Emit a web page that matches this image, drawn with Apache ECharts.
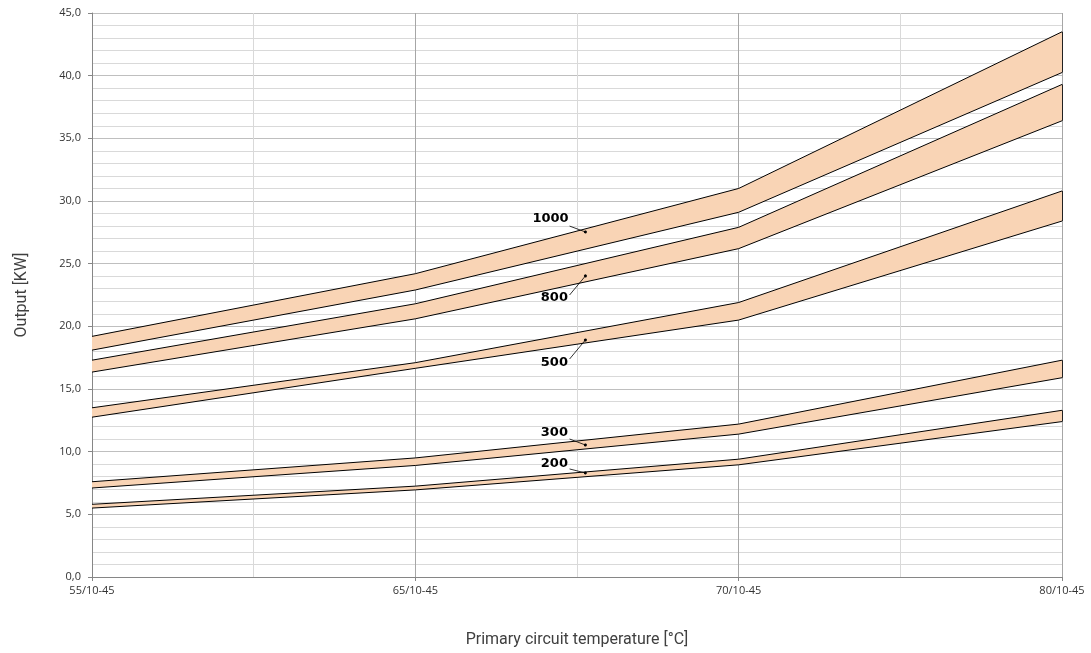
<!DOCTYPE html>
<html>
<head>
<meta charset="utf-8">
<script src="https://cdn.jsdelivr.net/npm/echarts@6/dist/echarts.min.js"></script>
<style>
  html, body { margin: 0; padding: 0; background: #fff; }
  #chart { width: 1091px; height: 653px; }
</style>
</head>
<body>
<div id="chart"></div>
<script>
var categories = ['55/10-45', '65/10-45', '70/10-45', '80/10-45'];
var bandNames = ['1000', '800', '500', '300', '200'];

// upper / lower edge of each band (kW)
var upper1000 = [19.2, 24.2, 31.0, 43.5];
var lower1000 = [18.1, 22.9, 29.1, 40.25];
var upper800 = [17.3, 21.8, 27.9, 39.3];
var lower800 = [16.35, 20.6, 26.2, 36.4];
var upper500 = [13.5, 17.1, 21.9, 30.8];
var lower500 = [12.75, 16.65, 20.5, 28.4];
var upper300 = [7.6, 9.5, 12.2, 17.3];
var lower300 = [7.1, 8.9, 11.4, 15.9];
var upper200 = [5.8, 7.25, 9.4, 13.3];
var lower200 = [5.5, 6.95, 8.95, 12.4];

var uppers = [upper1000, upper800, upper500, upper300, upper200];
var lowers = [lower1000, lower800, lower500, lower300, lower200];

// annotation: text anchor and leader line in data units (x = category index)
var labelPos = [[1.418, 28.56], [1.43, 22.26], [1.43, 17.07], [1.43, 11.49], [1.43, 9.02]];
var leaderFrom = [[1.477, 28.0], [1.477, 22.5], [1.477, 17.39], [1.477, 11.01], [1.477, 8.62]];
var leaderTo = [[1.526, 27.53], [1.526, 24.02], [1.526, 18.91], [1.526, 10.53], [1.526, 8.3]];

var fill = '#f9d4b5';
var series = [];

function toPoints(arr) {
  return arr.map(function (v, k) { return [k, v]; });
}

for (var i = 0; i < bandNames.length; i++) {
  (function (i) {
    var lo = lowers[i], up = uppers[i];
    // filled band between the two edges
    series.push({
      name: bandNames[i] + ' band',
      type: 'custom',
      silent: true,
      z: 1,
      data: [[0, lo[0]]],
      renderItem: function (params, api) {
        var pts = [];
        for (var k = 0; k < up.length; k++) pts.push(api.coord([k, up[k]]));
        for (var k = lo.length - 1; k >= 0; k--) pts.push(api.coord([k, lo[k]]));
        return { type: 'polygon', shape: { points: pts }, style: { fill: fill } };
      }
    });
    series.push({
      name: bandNames[i] + ' max',
      type: 'line',
      symbol: 'none',
      silent: true,
      z: 3,
      lineStyle: { color: '#000', width: 1 },
      data: toPoints(up)
    });
    series.push({
      name: bandNames[i] + ' min',
      type: 'line',
      symbol: 'none',
      silent: true,
      z: 3,
      lineStyle: { color: '#000', width: 1 },
      data: toPoints(lo),
      markLine: {
        silent: true,
        symbol: ['none', 'circle'],
        symbolSize: 3,
        lineStyle: { color: '#000', width: 0.8, type: 'solid' },
        label: { show: false },
        data: [
          [{ coord: leaderFrom[i] }, { coord: leaderTo[i] }],
          [{ coord: [3, lo[3]], symbol: 'none' }, { coord: [3, up[3]], symbol: 'none' }]
        ]
      },
      markPoint: {
        silent: true,
        symbol: 'circle',
        symbolSize: 0,
        label: {
          show: true,
          formatter: bandNames[i],
          color: '#000',
          fontFamily: 'DejaVu Sans',
          fontWeight: 'bold',
          fontSize: 13
        },
        data: [{ coord: labelPos[i] }]
      }
    });
  })(i);
}

var chart = echarts.init(document.getElementById('chart'));
chart.setOption({
  animation: false,
  backgroundColor: '#fff',
  grid: { left: 92, right: 29, top: 13, bottom: 76 },
  xAxis: {
    type: 'value',
    min: 0,
    max: 3,
    interval: 1,
    name: 'Primary circuit temperature [°C]',
    nameLocation: 'middle',
    nameGap: 55,
    nameTextStyle: { fontFamily: 'Roboto', fontSize: 16, color: '#404040' },
    axisLine: { show: true, lineStyle: { color: '#868686' } },
    axisTick: { show: true, length: 4, lineStyle: { color: '#868686' } },
    axisLabel: {
      margin: 8,
      fontFamily: 'Open Sans',
      fontSize: 11,
      color: '#333',
      formatter: function (v) { return categories[v]; }
    },
    splitLine: { show: true, lineStyle: { color: '#a6a6a6' } },
    minorTick: { show: false, splitNumber: 2 },
    minorSplitLine: { show: true, lineStyle: { color: '#d9d9d9' } }
  },
  yAxis: {
    type: 'value',
    min: 0,
    max: 45,
    interval: 5,
    name: 'Output [KW]',
    nameLocation: 'middle',
    nameGap: 62,
    nameTextStyle: { fontFamily: 'Roboto', fontSize: 16, color: '#404040' },
    axisLine: { show: true, lineStyle: { color: '#868686' } },
    axisTick: { show: true, length: 4, lineStyle: { color: '#868686' } },
    axisLabel: {
      margin: 11,
      fontFamily: 'Open Sans',
      fontSize: 11,
      color: '#333',
      formatter: function (v) { return v.toFixed(1).replace('.', ','); }
    },
    splitLine: { show: true, lineStyle: { color: '#bfbfbf' } },
    minorTick: { show: false, splitNumber: 5 },
    minorSplitLine: { show: true, lineStyle: { color: '#d9d9d9' } }
  },
  series: series
});
</script>
</body>
</html>
